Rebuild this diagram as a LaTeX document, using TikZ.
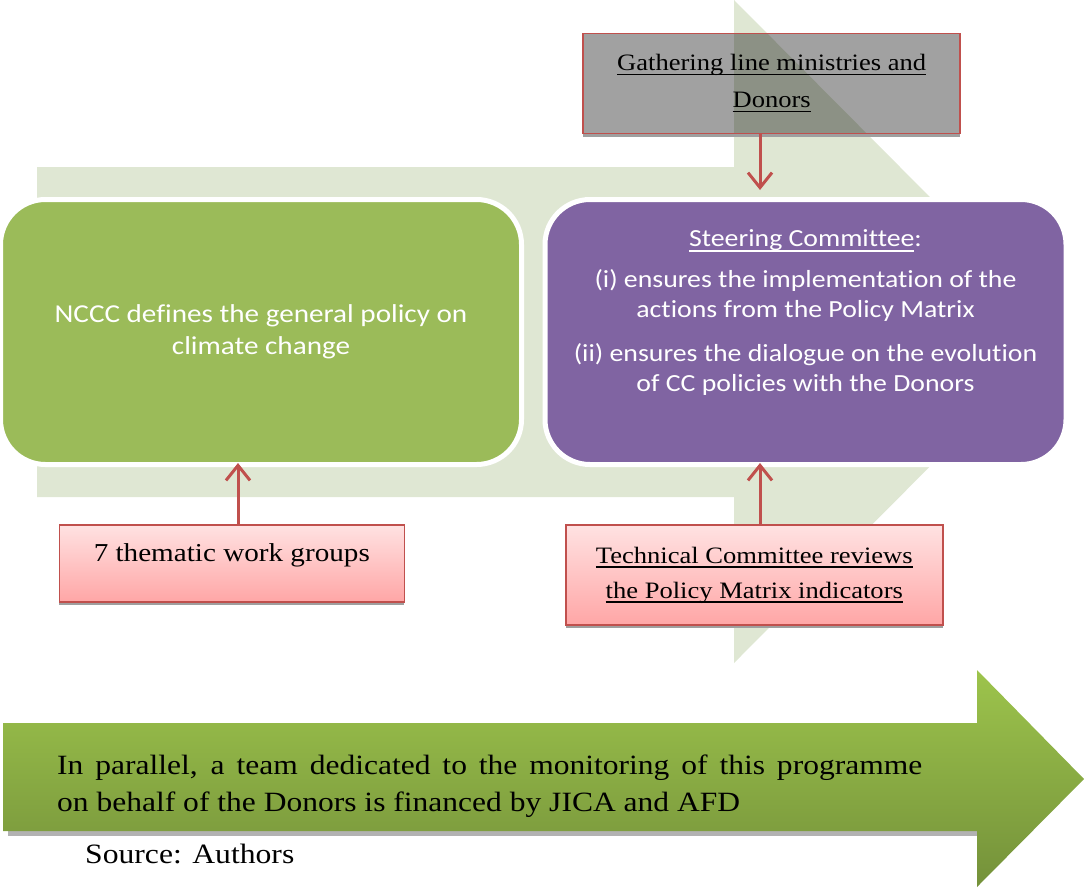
\documentclass[tikz,border=0pt]{standalone}
\usepackage{fontspec}
\setmainfont{Liberation Serif}[FakeStretch=1.13,Ligatures=NoCommon]
\newfontfamily\calibri{Carlito}[FakeStretch=1.13,Ligatures=NoCommon]
\newcommand{\uln}[1]{\setbox0\hbox{#1}\rlap{\rule[-4.6pt]{\wd0}{1.6pt}}\box0}
\usetikzlibrary{arrows.meta,shadows}
\definecolor{paleband}{HTML}{DFE7D3}
\definecolor{leafgreen}{HTML}{9BBB59}
\definecolor{lavender}{HTML}{8064A2}
\definecolor{brick}{HTML}{C0504D}
\definecolor{pinktop}{HTML}{FFE2E2}
\definecolor{pinkbot}{HTML}{FFA6A6}
\definecolor{limetop}{HTML}{9DC44C}
\definecolor{limebot}{HTML}{74913A}

\begin{document}
\begin{tikzpicture}[x=1pt,y=-1pt,
    roundbox/.style={rounded corners=45pt,draw=white,line width=5pt,minimum width=521pt,minimum height=265pt,text=white,align=center,inner sep=0pt},
    pinkbox/.style={draw=brick,line width=1.5pt,top color=pinktop,bottom color=pinkbot,align=center,inner sep=0pt,
        drop shadow={shadow xshift=0pt,shadow yshift=-3pt,fill=gray!75,opacity=1}},
    flowarrow/.style={draw=brick,line width=3pt,-{Straight Barb[length=15pt,width=24pt,line width=3pt]}}
  ]
    \useasboundingbox (0,0) rectangle (1084,887);
    % light band behind the two committees
    \fill[paleband] (37,167) -- (734,167) -- (734,0) -- (1064,332) -- (734,663) -- (734,497) -- (37,497) -- cycle;
    \node[roundbox,fill=leafgreen,font=\calibri\fontsize{25.8}{32}\selectfont] (nccc) at (261,332)
        {NCCC defines the general policy on\\climate change};
    \node[roundbox,fill=lavender] (steer) at (805.5,332) {};
    \node[text=white,align=center,inner sep=0pt,font=\calibri\fontsize{24.6}{30}\selectfont] (steertext) at (805.5,313)
        {\uln{Steering Committee}:\\[11pt](i) ensures the implementation of the\\actions from the Policy Matrix\\[14pt](ii) ensures the dialogue on the evolution\\of CC policies with the Donors};
    % see-through box on top
    \fill[gray!75] (583,133) rectangle (960,136.5);
    \node[draw=brick,line width=1.5pt,fill=black,fill opacity=0.37,text opacity=1,minimum width=377pt,minimum height=100pt,
        align=center,inner sep=0pt,font=\fontsize{23.5}{37}\selectfont] (gather) at (771.7,83.3)
        {\uln{Gathering line ministries and}\\\uln{Donors}};
    \node[pinkbox,minimum width=345pt,minimum height=77pt,text height=37pt,text depth=40pt,font=\fontsize{25.8}{30}\selectfont] (groups) at (231.8,563.3)
        {7 thematic work groups};
    \node[pinkbox,minimum width=377pt,minimum height=100pt,font=\fontsize{23.5}{35}\selectfont] (techc) at (754.3,575)
        {\uln{Technical Committee reviews}\\\uln{the Policy Matrix indicators}};
    \coordinate (leftcol) at (238,0);
    \coordinate (rightcol) at (760,0);
    \draw[flowarrow,shorten >=7pt] (gather.south -| rightcol) -- (steer.north -| rightcol);
    \draw[flowarrow,shorten >=-4pt] (groups.north -| leftcol) -- (nccc.south -| leftcol);
    \draw[flowarrow,shorten >=-4pt] (techc.north -| rightcol) -- (steer.south -| rightcol);
    % bottom arrow
    \fill[gray!60] (8,831) rectangle (977,836);
    \shade[top color=limetop,bottom color=limebot] (3,723) -- (977,723) -- (977,670) -- (1084,779) -- (977,887) -- (977,831) -- (3,831) -- cycle;
    \node[anchor=west,text width=865pt,align=justify,inner sep=0pt,font=\fontsize{27.9}{37}\selectfont] (parallel) at (57,786)
        {In parallel, a team dedicated to the monitoring of this programme\linebreak on behalf of the Donors is financed by JICA and AFD};
    \node[anchor=base west,inner sep=0pt,font=\fontsize{28}{34}\selectfont] (source) at (85,863) {Source: Authors};
\end{tikzpicture}
\end{document}
